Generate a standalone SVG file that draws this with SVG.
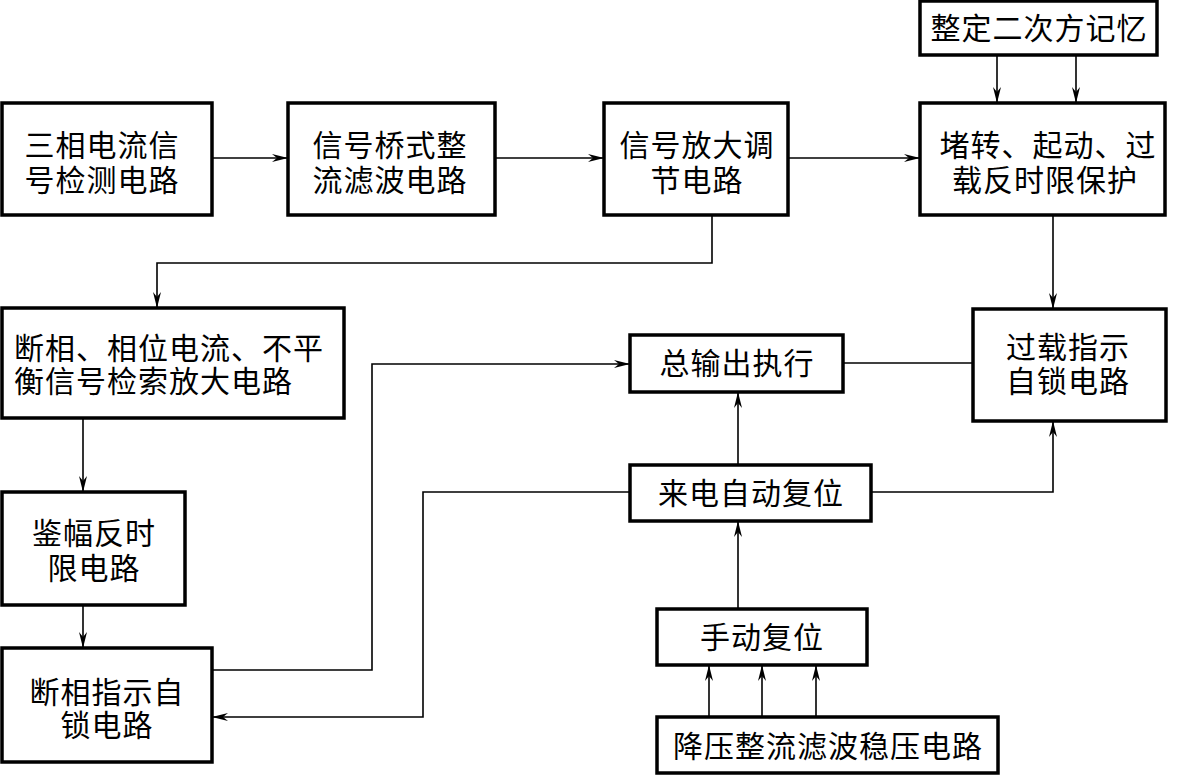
<svg xmlns="http://www.w3.org/2000/svg" width="1184" height="776" viewBox="0 0 1184 776">
<style>
  .box { fill: #fff; stroke: #000; stroke-width: 3.5; }
  .t { font-family: "Liberation Sans", "Noto Sans CJK SC", "Noto Sans CJK JP", sans-serif; font-size: 30px; letter-spacing: 1px; fill: #000; text-anchor: middle; }
  .tl { font-family: "Liberation Sans", "Noto Sans CJK SC", "Noto Sans CJK JP", sans-serif; font-size: 30px; letter-spacing: 1px; fill: #000; text-anchor: start; }
  .c { fill: none; stroke: #000; stroke-width: 1.6; }
</style>
<defs>
  <marker id="ah" markerUnits="userSpaceOnUse" viewBox="0 0 16 8" markerWidth="16" markerHeight="8" refX="16" refY="4" orient="auto">
    <path d="M0,0 L16,4 L0,8 L5,4 z" fill="#000"/>
  </marker>
</defs>
<rect width="1184" height="776" fill="#fff"/>
<g id="connectors">
  <line class="c" x1="212" y1="158" x2="288" y2="158" marker-end="url(#ah)"/>
  <line class="c" x1="495" y1="158" x2="604" y2="158" marker-end="url(#ah)"/>
  <line class="c" x1="788" y1="158" x2="920" y2="158" marker-end="url(#ah)"/>
  <line class="c" x1="997" y1="55" x2="997" y2="103" marker-end="url(#ah)"/>
  <line class="c" x1="1076" y1="55" x2="1076" y2="103" marker-end="url(#ah)"/>
  <polyline class="c" points="712,215 712,263 157,263 157,308" marker-end="url(#ah)"/>
  <line class="c" x1="1053" y1="215" x2="1053" y2="309" marker-end="url(#ah)"/>
  <line class="c" x1="83" y1="418" x2="83" y2="492" marker-end="url(#ah)"/>
  <line class="c" x1="83" y1="605" x2="83" y2="648" marker-end="url(#ah)"/>
  <polyline class="c" points="212,670 372,670 372,364 630,364" marker-end="url(#ah)"/>
  <line class="c" x1="843" y1="363" x2="973" y2="363"/>
  <line class="c" x1="738" y1="465" x2="738" y2="392" marker-end="url(#ah)"/>
  <polyline class="c" points="871,492 1053,492 1053,421" marker-end="url(#ah)"/>
  <polyline class="c" points="630,492 423,492 423,717 212,717" marker-end="url(#ah)"/>
  <line class="c" x1="738" y1="609" x2="738" y2="521" marker-end="url(#ah)"/>
  <line class="c" x1="709" y1="717" x2="709" y2="665" marker-end="url(#ah)"/>
  <line class="c" x1="762" y1="717" x2="762" y2="665" marker-end="url(#ah)"/>
  <line class="c" x1="816" y1="717" x2="816" y2="665" marker-end="url(#ah)"/>
</g>
<g id="n1"><rect class="box" x="2" y="103" width="210" height="112"/><text class="t"><tspan x="102" y="156">三相电流信</tspan><tspan x="102" y="191">号检测电路</tspan></text></g>
<g id="n2"><rect class="box" x="288" y="103" width="207" height="112"/><text class="t"><tspan x="390" y="156">信号桥式整</tspan><tspan x="390" y="191">流滤波电路</tspan></text></g>
<g id="n3"><rect class="box" x="604" y="103" width="184" height="112"/><text class="t"><tspan x="697" y="156">信号放大调</tspan><tspan x="697" y="191">节电路</tspan></text></g>
<g id="n4"><rect class="box" x="920" y="103" width="245" height="112"/><text class="t"><tspan x="1048" y="156">堵转、起动、过</tspan><tspan x="1045" y="191">载反时限保护</tspan></text></g>
<g id="n5"><rect class="box" x="920" y="1" width="237" height="54"/><text class="t" x="1039" y="39">整定二次方记忆</text></g>
<g id="n6"><rect class="box" x="2" y="308" width="342" height="110"/><text class="tl"><tspan x="14" y="359">断相、相位电流、不平</tspan><tspan x="14" y="392">衡信号检索放大电路</tspan></text></g>
<g id="n7"><rect class="box" x="2" y="492" width="183" height="113"/><text class="t"><tspan x="94" y="544">鉴幅反时</tspan><tspan x="94" y="579">限电路</tspan></text></g>
<g id="n8"><rect class="box" x="2" y="648" width="210" height="114"/><text class="t"><tspan x="107" y="703">断相指示自</tspan><tspan x="107" y="736">锁电路</tspan></text></g>
<g id="n9"><rect class="box" x="630" y="335" width="213" height="57"/><text class="t" x="737" y="374">总输出执行</text></g>
<g id="n10"><rect class="box" x="973" y="309" width="193" height="112"/><text class="t"><tspan x="1068" y="358">过载指示</tspan><tspan x="1068" y="392">自锁电路</tspan></text></g>
<g id="n11"><rect class="box" x="630" y="465" width="241" height="56"/><text class="t" x="751" y="504">来电自动复位</text></g>
<g id="n12"><rect class="box" x="657" y="609" width="210" height="56"/><text class="t" x="762" y="648">手动复位</text></g>
<g id="n13"><rect class="box" x="657" y="717" width="341" height="56"/><text class="t" x="828" y="757">降压整流滤波稳压电路</text></g>
</svg>
